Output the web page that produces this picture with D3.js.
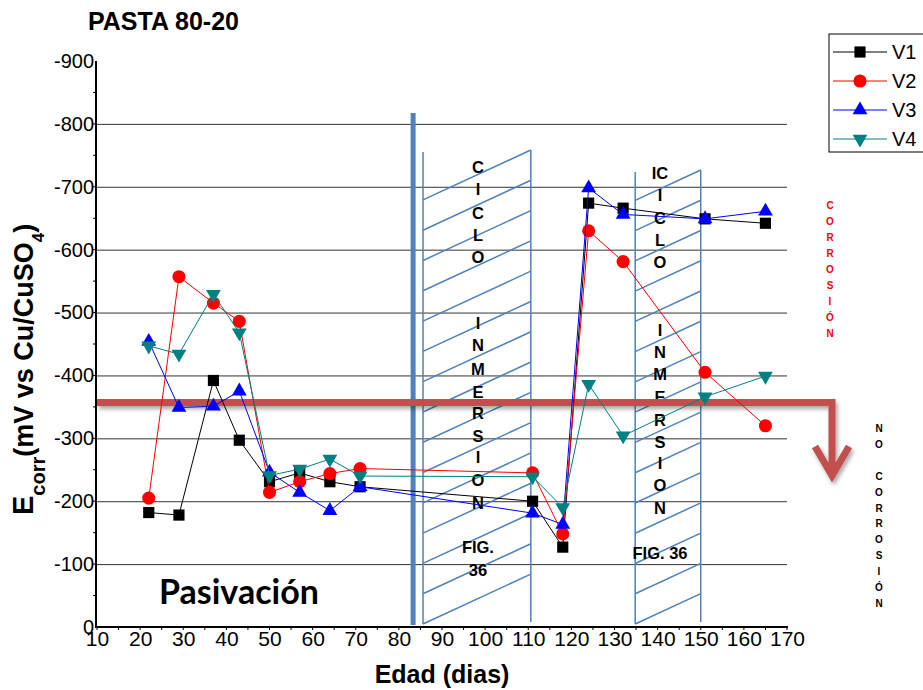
<!DOCTYPE html>
<html>
<head>
  <title>PASTA 80-20</title>
  <script src="https://cdn.jsdelivr.net/npm/d3@7"></script>
  <style>
    body { margin: 0; background: #fff; }
    svg { display: block; }
    text { font-family: "Liberation Sans", Arial, sans-serif; }
    .cal { font-family: Lato, "Open Sans", sans-serif; font-weight: bold; }
  </style>
</head>
<body>
  <div id="chart"></div>
  <script>
    // edad (dias) of each reading
    const ages = [22, 29, 37, 43, 50, 57, 64, 71, 111, 118, 124, 132, 151, 165];
    // Ecorr (mV vs Cu/CuSO4) per specimen
    const v1 = [-182, -178, -392, -297, -231, -245, -231, -223, -200, -127, -674, -666, -649, -642];
    const v2 = [-205, -557, -515, -486, -214, -231, -244, -252, -245, -148, -630, -581, -405, -320];
    const v3 = [-454, -349, -351, -375, -246, -214, -185, -223, -181, -163, -698, -656, -649, -661];
    const v4 = [-447, -434, -529, -468, -241, -251, -267, -240, -239, -190, -386, -304, -366, -399];
    const seriesNames = ["V1", "V2", "V3", "V4"];
    const xTicks = d3.range(10, 171, 10);
    const yTicks = d3.range(0, -901, -100);
    const threshold = -357;          // corrosion limit line
    const wetBar = 83.3;             // thick bar (dias)
    const cycles = [[85.6, 110.6], [134.8, 150]];

    const width = 923, height = 690;
    const svg = d3.select("#chart").append("svg")
      .attr("width", width).attr("height", height);

    const x = d3.scaleLinear([10, 170], [97, 787]);
    const y = d3.scaleLinear([0, -900], [627, 61]);

    const colors = ["#000000", "#ff0000", "#0000ff", "#008080"];
    const shapes = [d3.symbolSquare, d3.symbolCircle, d3.symbolTriangle, d3.symbolTriangle];
    const sizes = [125, 135, 95, 95];
    const rot = [0, 0, 0, 180];
    const hatch = "#4f81bd";

    const defs = svg.append("defs");
    defs.append("filter").attr("id", "shadow")
      .attr("x", "-10%").attr("y", "-50%").attr("width", "130%").attr("height", "200%")
      .append("feDropShadow")
      .attr("dx", 2).attr("dy", 3).attr("stdDeviation", 2)
      .attr("flood-color", "#000").attr("flood-opacity", 0.35);

    // gridlines
    svg.append("g")
      .attr("transform", `translate(${x(10)},0)`)
      .call(d3.axisLeft(y).tickValues(yTicks.filter(d => d < 0 && d > -900))
        .tickSize(-(x(170) - x(10))).tickFormat(""))
      .call(g => g.select(".domain").remove())
      .call(g => g.selectAll("line").attr("stroke", "#333").attr("stroke-width", 1));

    // hatched immersion cycles
    cycles.forEach(([a, b], i) => {
      const g = svg.append("g").attr("stroke", hatch).attr("stroke-width", 1.5).attr("fill", "none");
      const x0 = x(a), x1 = x(b);
      const top0 = i === 0 ? 152 : 172, top1 = i === 0 ? 150 : 170;
      const bot = 624;
      g.append("line").attr("x1", x0).attr("x2", x0).attr("y1", top0).attr("y2", bot);
      g.append("line").attr("x1", x1).attr("x2", x1).attr("y1", top1).attr("y2", bot - 2);
      const rise = (x1 - x0) * 0.463;
      const first = top1 + rise, n = 14;
      const step = (bot - first) / n;
      for (let k = 0; k <= n; k++) {
        const yl = first + k * step;
        g.append("line").attr("x1", x0).attr("y1", yl).attr("x2", x1).attr("y2", yl - rise);
      }
    });

    // thick wet bar
    svg.append("line")
      .attr("x1", x(wetBar)).attr("x2", x(wetBar))
      .attr("y1", 113).attr("y2", 625)
      .attr("stroke", hatch).attr("stroke-width", 5);

    // cycle labels
    function column(cx, items) {
      const g = svg.append("g").attr("class", "cal").attr("font-size", 16.5)
        .attr("text-anchor", "middle").attr("fill", "#000");
      items.forEach(([t, cy]) => g.append("text").attr("x", cx).attr("y", cy + 6).text(t));
    }
    const c1 = (x(cycles[0][0]) + x(cycles[0][1])) / 2 + 1;
    column(c1, [["C", 167], ["I", 189], ["C", 213], ["L", 235], ["O", 257],
      ["I", 323], ["N", 345], ["M", 369], ["E", 392], ["R", 413], ["S", 436], ["I", 457], ["O", 480], ["N", 503],
      ["FIG.", 547], ["36", 570]]);
    const c2 = 660;
    column(c2, [["IC", 173], ["I", 195], ["C", 218], ["L", 240], ["O", 262],
      ["I", 330], ["N", 352], ["M", 374], ["E", 397], ["R", 420], ["S", 442], ["I", 463], ["O", 485], ["N", 508],
      ["FIG. 36", 553]]);

    // corrosion threshold arrow
    const ay = y(threshold), ax = 832;
    svg.append("path")
      .attr("d", `M${x(10)},${ay} H${ax} V${ay + 70} M${ax - 17},${ay + 44} L${ax},${ay + 73} L${ax + 17},${ay + 44}`)
      .attr("fill", "none").attr("stroke", "#c0504d").attr("stroke-width", 7)
      .attr("stroke-linejoin", "miter").attr("filter", "url(#shadow)");

    // axes
    svg.append("g")
      .attr("transform", `translate(${x(10) - 1},0)`)
      .call(d3.axisLeft(y).tickValues(yTicks).tickSize(0).tickPadding(2).tickFormat(d => String(d)))
      .call(g => g.select(".domain").remove())
      .call(g => g.selectAll("text").attr("font-size", 20).attr("fill", "#000")
        .attr("font-family", '"Liberation Sans", Arial, sans-serif'));
    svg.append("g")
      .attr("transform", `translate(0,${y(0)})`)
      .call(d3.axisBottom(x).tickValues(xTicks).tickSize(0).tickPadding(4))
      .call(g => g.select(".domain").remove())
      .call(g => g.selectAll("text").attr("font-size", 21).attr("fill", "#000")
        .attr("font-family", '"Liberation Sans", Arial, sans-serif'));
    // minor ticks
    svg.append("g").attr("stroke", "#000").selectAll("line")
      .data(d3.range(10, 171, 5)).join("line")
      .attr("x1", d => x(d)).attr("x2", d => x(d)).attr("y1", y(0)).attr("y2", y(0) + 3);
    svg.append("g").attr("stroke", "#000").selectAll("line")
      .data(d3.range(-50, -900, -50)).join("line")
      .attr("x1", x(10) - 4).attr("x2", x(10)).attr("y1", d => y(d)).attr("y2", d => y(d));
    svg.append("line").attr("x1", x(10) - 1).attr("x2", x(10) - 1).attr("y1", y(-900)).attr("y2", y(0) + 1)
      .attr("stroke", "#000").attr("stroke-width", 2);
    svg.append("line").attr("x1", x(10) - 2).attr("x2", x(170) + 1).attr("y1", y(0)).attr("y2", y(0))
      .attr("stroke", "#000").attr("stroke-width", 2);

    // series
    const series = [v1, v2, v3, v4];
    const line = d3.line().x((d, i) => x(ages[i])).y(d => y(d));
    series.forEach((vals, s) => {
      svg.append("path").datum(vals).attr("d", line)
        .attr("fill", "none").attr("stroke", colors[s]).attr("stroke-width", 1);
      svg.append("g").selectAll("path").data(vals).join("path")
        .attr("d", d3.symbol(shapes[s], sizes[s]))
        .attr("transform", (d, i) => `translate(${x(ages[i])},${y(d)}) rotate(${rot[s]})`)
        .attr("fill", colors[s]);
    });

    // legend
    const leg = svg.append("g");
    leg.append("rect").attr("x", 829).attr("y", 34).attr("width", 110).attr("height", 118)
      .attr("fill", "#fff").attr("stroke", "#000");
    seriesNames.forEach((n, s) => {
      const ly = 52 + s * 29;
      leg.append("line").attr("x1", 833).attr("x2", 887).attr("y1", ly).attr("y2", ly)
        .attr("stroke", colors[s]).attr("stroke-width", 1);
      leg.append("path").attr("d", d3.symbol(shapes[s], sizes[s]))
        .attr("transform", `translate(860,${ly}) rotate(${rot[s]})`).attr("fill", colors[s]);
      leg.append("text").attr("x", 892).attr("y", ly + 7).attr("font-size", 20).text(n);
    });

    // titles
    svg.append("text").attr("x", 88).attr("y", 30).attr("font-size", 25).attr("font-weight", "bold")
      .text("PASTA 80-20");
    svg.append("text").attr("x", 442).attr("y", 683).attr("font-size", 25).attr("font-weight", "bold")
      .attr("text-anchor", "middle").text("Edad (dias)");
    const yl = svg.append("text").attr("transform", "translate(33,515) rotate(-90)")
      .attr("font-weight", "bold");
    yl.append("tspan").attr("font-size", 29).text("E");
    yl.append("tspan").attr("font-size", 20).attr("dy", 12).text("corr");
    yl.append("tspan").attr("font-size", 27).attr("dy", -12).text("(mV vs Cu/CuSO");
    yl.append("tspan").attr("font-size", 17).attr("dy", 11).text("4");
    yl.append("tspan").attr("font-size", 27).attr("dy", -11).text(")");

    svg.append("text").attr("class", "cal").attr("x", 159).attr("y", 604).attr("font-size", 34)
      .text("Pasivación");

    // corrosion side labels
    const cor = svg.append("g").attr("class", "cal").attr("font-size", 10).attr("text-anchor", "middle");
    "CORROSIÓN".split("").forEach((ch, i) =>
      cor.append("text").attr("x", 830).attr("y", 209 + i * 16).attr("fill", "#ff0000").text(ch));
    "NO CORROSIÓN".split("").forEach((ch, i) =>
      cor.append("text").attr("x", 879).attr("y", 432 + i * 15.9).attr("fill", "#000").text(ch));
  </script>
</body>
</html>
